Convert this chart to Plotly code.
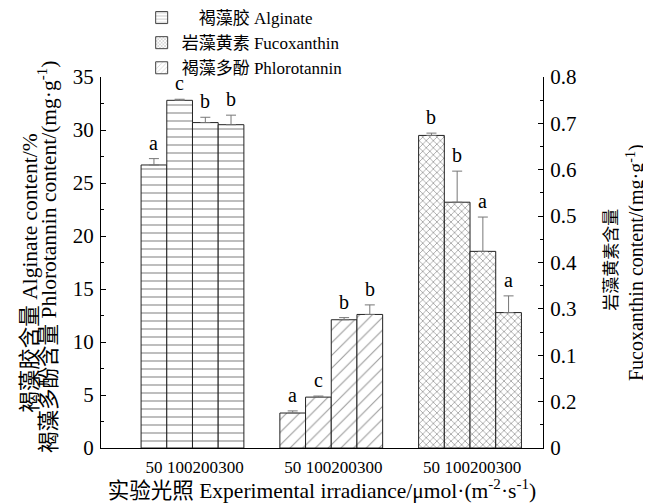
import plotly.graph_objects as go

irradiance = ["50", "100", "200", "300"]
alginate = [26.7, 32.8, 30.7, 30.5]
alginate_err = [0.6, 0.1, 0.5, 0.9]
alginate_sig = ["a", "c", "b", "b"]
phlorotannin = [3.3, 4.8, 12.1, 12.6]
phlorotannin_err = [0.2, 0.1, 0.2, 0.9]
phlorotannin_sig = ["a", "c", "b", "b"]
fucoxanthin = [0.674, 0.530, 0.424, 0.292]
fucoxanthin_err = [0.005, 0.067, 0.074, 0.036]
fucoxanthin_sig = ["b", "b", "a", "a"]
left_ticks = [0, 5, 10, 15, 20, 25, 30, 35]
right_tickvals = [0, 0.1, 0.2, 0.3, 0.4, 0.5, 0.6, 0.7, 0.8]
right_ticktext = ["0", "0.2", "0.1", "0.3", "0.4", "0.5", "0.6", "0.7", "0.8"]

FONT = "Liberation Serif, Times New Roman, Noto Sans CJK SC, serif"
GROUP_GAP = 5.4
offsets = [i - 1.5 for i in range(len(irradiance))]

def xs(g):
    return [g * GROUP_GAP + o for o in offsets]

fig = go.Figure()

def add_series(name, g, vals, errs, sig, shape, size, solidity, yaxis, lsize):
    x = xs(g)
    fig.add_trace(go.Bar(
        x=x, y=vals, width=1, name=name, yaxis=yaxis, showlegend=False,
        marker=dict(color="white", line=dict(color="#222", width=1),
                    pattern=dict(shape=shape, size=size, solidity=solidity,
                                 fgcolor="#333", bgcolor="white")),
        error_y=dict(type="data", symmetric=False, array=errs,
                     arrayminus=[0] * len(errs), color="#777",
                     thickness=1, width=5),
    ))
    # legend entry
    fig.add_trace(go.Bar(
        x=[None], y=[None], name=name, yaxis=yaxis, showlegend=True,
        marker=dict(color="white", line=dict(color="#444", width=1),
                    pattern=dict(shape=shape, size=lsize, solidity=solidity,
                                 fgcolor="#444", bgcolor="white")),
    ))
    yref = "y" if yaxis == "y" else "y2"
    for xi, v, e, s in zip(x, vals, errs, sig):
        fig.add_annotation(x=xi, y=v + e, xref="x", yref=yref, text=s,
                           showarrow=False, yanchor="bottom", yshift=3,
                           font=dict(family=FONT, size=20, color="black"))

add_series("\u00a0\u00a0\u00a0\u00a0褐藻胶 Alginate", 0, alginate, alginate_err,
           alginate_sig, "-", 8, 0.16, "y", 4)
add_series("岩藻黄素 Fucoxanthin", 2, fucoxanthin, fucoxanthin_err,
           fucoxanthin_sig, "x", 5, 0.28, "y2", 3)
add_series("褐藻多酚 Phlorotannin", 1, phlorotannin, phlorotannin_err,
           phlorotannin_sig, "/", 9, 0.12, "y", 4)

tickvals = xs(0) + xs(1) + xs(2)
ticktext = irradiance * 3

def vtitle(x, y, text, size):
    fig.add_annotation(x=x, y=y, xref="paper", yref="paper", textangle=-90,
                       xanchor="center", yanchor="middle", text=text,
                       showarrow=False, font=dict(family=FONT, size=size, color="black"))

# left axis title (two overlapping lines as in the reference)
vtitle(-0.161, 0.472, "褐藻胶含量 Alginate content/%", 21.5)
vtitle(-0.12, 0.515, "褐藻多酚含量 Phlorotannin content/(mg·g<sup>-1</sup>)", 21.5)
# right axis title
vtitle(1.156, 0.507, "岩藻黄素含量", 17)
vtitle(1.208, 0.501, "Fucoxanthin content/(mg·g<sup>-1</sup>)", 20)

# the page body adds an 8px offset, so the figure is 8px smaller than the window
fig.update_layout(
    width=643, height=495,
    margin=dict(l=93, r=108, t=69, b=55, autoexpand=False),
    paper_bgcolor="white", plot_bgcolor="white",
    barmode="overlay",
    font=dict(family=FONT, size=17, color="black"),
    showlegend=True,
    legend=dict(x=0.092, y=1.2075, xanchor="left", yanchor="top",
                bgcolor="rgba(0,0,0,0)", traceorder="normal",
                font=dict(family=FONT, size=17), tracegroupgap=0),
    xaxis=dict(range=[-3.56, 13.64], tickvals=tickvals, ticktext=ticktext,
               tickangle=0, ticklabelstandoff=4,
               showline=True, linecolor="black", linewidth=1, ticks="",
               showgrid=False, zeroline=False,
               tickfont=dict(family=FONT, size=17),
               title=dict(text="实验光照 Experimental irradiance/μmol·(m<sup>-2</sup>·s<sup>-1</sup>)",
                          font=dict(family=FONT, size=21.5), standoff=2)),
    yaxis=dict(range=[0, 35], tickvals=left_ticks, showline=True,
               linecolor="black", linewidth=1, ticks="inside", ticklen=5,
               tickcolor="black", showgrid=False, zeroline=False,
               ticklabelstandoff=2,
               minor=dict(ticks="inside", ticklen=3, dtick=2.5, tickcolor="black"),
               tickfont=dict(family=FONT, size=21)),
    yaxis2=dict(range=[0, 0.8], overlaying="y", side="right",
                tickmode="array", tickvals=right_tickvals, ticktext=right_ticktext,
                showline=True, linecolor="black", linewidth=1, ticks="inside",
                ticklen=5, tickcolor="black", showgrid=False, zeroline=False,
                ticklabelstandoff=2,
                minor=dict(tickmode="linear", tick0=0, dtick=0.05, ticks="inside",
                           ticklen=3, tickcolor="black"),
                tickfont=dict(family=FONT, size=21)),
)

fig.write_html("out.html")
